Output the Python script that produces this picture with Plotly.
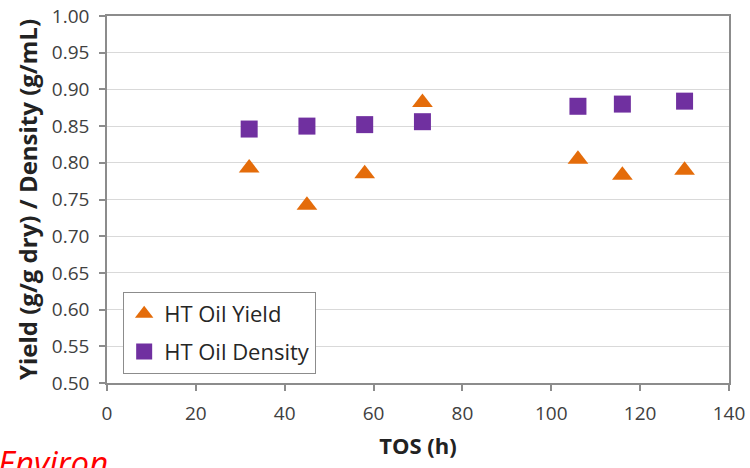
import plotly.graph_objects as go

tos = [32, 45, 58, 71, 106, 116, 130]
oil_yield = [0.793, 0.742, 0.785, 0.882, 0.805, 0.783, 0.790]
oil_density = [0.846, 0.850, 0.852, 0.856, 0.877, 0.880, 0.884]

x_ticks = [0, 20, 40, 60, 80, 100, 120, 140]
y_ticks = [0.50, 0.55, 0.60, 0.65, 0.70, 0.75, 0.80, 0.85, 0.90, 0.95, 1.00]

FONT = "Open Sans"
ORANGE = "#E46C0A"
PURPLE = "#7030A0"

fig = go.Figure()
fig.add_trace(go.Scatter(
    x=tos, y=oil_yield, mode="markers", name="HT Oil Yield",
    legendgroup="a",
    marker=dict(symbol="triangle-up", size=18, color=ORANGE),
))
fig.add_trace(go.Scatter(
    x=tos, y=oil_density, mode="markers", name="HT Oil Density",
    legendgroup="b",
    marker=dict(symbol="square", size=17, color=PURPLE),
))

axis_common = dict(
    gridcolor="#d9d9d9", gridwidth=1,
    showline=True, linecolor="#8c8c8c", linewidth=1.5, mirror=True,
    ticks="outside", ticklen=6, tickcolor="#8c8c8c", tickwidth=1.5,
    zeroline=False, automargin=False,
    tickfont=dict(family=FONT, size=19, color="#404040"),
)

fig.update_layout(
    width=750, height=468,
    margin=dict(l=107, r=21, t=16, b=85, autoexpand=False),
    paper_bgcolor="white", plot_bgcolor="white",
    font=dict(family=FONT),
    showlegend=True,
    legend=dict(
        x=0.026, y=0.248, xanchor="left", yanchor="top",
        bgcolor="white", bordercolor="#8c8c8c", borderwidth=1,
        font=dict(family=FONT, size=22, color="#262626"),
        tracegroupgap=6, itemwidth=30,
    ),
    xaxis=dict(
        range=[0, 140], tickvals=x_ticks,
        ticktext=[str(v) for v in x_ticks],
        ticklabelstandoff=6, showgrid=False,
        title=dict(text="<b>TOS (h)</b>", standoff=14,
                   font=dict(family=FONT, size=22, color="#222222")),
        **axis_common,
    ),
    yaxis=dict(
        range=[0.5, 1.0], tickvals=y_ticks,
        ticktext=[f"{v:.2f}" for v in y_ticks],
        ticklabelstandoff=6, showgrid=True,
        title=dict(text="<b>Yield (g/g dry) / Density (g/mL)</b>", standoff=7,
                   font=dict(family=FONT, size=24, color="#222222")),
        **axis_common,
    ),
    annotations=[dict(
        text="<i>Environ</i>", xref="paper", yref="paper",
        x=-0.178, y=-0.15, xanchor="left", yanchor="top", showarrow=False,
        font=dict(family=FONT, size=33, color="#ff0000"),
    )],
)

fig.write_html("out.html")
